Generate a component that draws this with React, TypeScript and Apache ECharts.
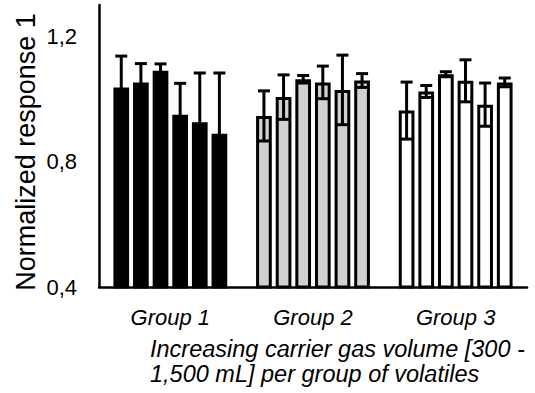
import React, { useEffect, useRef } from "react";
import * as echarts from "echarts";

const categories = ["Group 1", "Group 2", "Group 3"];
const group1Values = [1.037, 1.053, 1.09, 0.95, 0.926, 0.889];
const group1Errors = [0.1, 0.06, 0.022, 0.1, 0.157, 0.194];
const group2Values = [0.946, 1.006, 1.063, 1.053, 1.029, 1.059];
const group2Errors = [0.08, 0.071, 0.012, 0.052, 0.111, 0.022];
const group3Values = [0.963, 1.024, 1.079, 1.058, 0.982, 1.053];
const group3Errors = [0.091, 0.019, 0.008, 0.067, 0.069, 0.014];
const groupFills = ["#000000", "#d0d0d0", "#ffffff"];
const yTicks = [0.4, 0.8, 1.2];
const yAxisTitle = "Normalized response 1";
const xAxisTitle = "Increasing carrier gas volume [300 -\n1,500 mL] per group of volatiles";

const FONT = "'Liberation Sans', Arial, sans-serif";

export default function App() {
  const ref = useRef<HTMLDivElement>(null);
  useEffect(() => {
    if (!ref.current) return;
    const chart = echarts.init(ref.current, undefined, { renderer: "svg" });
    const values = [group1Values, group2Values, group3Values];
    const errors = [group1Errors, group2Errors, group3Errors];
    const barWidth = 15.7;
    const gapRatio = 0.25;
    const pitch = barWidth * (1 + gapRatio);
    const nBars = group1Values.length;

    const barSeries = Array.from({ length: nBars }, (_, j) => ({
      type: "bar",
      barWidth,
      barGap: gapRatio * 100 + "%",
      data: values.map((g, i) => ({
        value: g[j],
        itemStyle: { color: groupFills[i], borderColor: "#000", borderWidth: 3 },
      })),
    }));

    const errData: number[][] = [];
    values.forEach((g, i) => g.forEach((v, j) => errData.push([i, j, v, errors[i][j]])));

    const errSeries = {
      type: "custom",
      encode: { x: 0, y: 2 },
      z: 10,
      renderItem: (_params: any, api: any) => {
        const cat = api.value(0);
        const j = api.value(1);
        const v = api.value(2);
        const e = api.value(3);
        const top = api.coord([cat, v + e]);
        const bot = api.coord([cat, v - e]);
        const x = top[0] + (j - (nBars - 1) / 2) * pitch;
        const hw = 6;
        const style = { stroke: "#000", lineWidth: 3 };
        return {
          type: "group",
          children: [
            { type: "line", shape: { x1: x, y1: top[1], x2: x, y2: bot[1] }, style },
            { type: "line", shape: { x1: x - hw, y1: top[1], x2: x + hw, y2: top[1] }, style },
            { type: "line", shape: { x1: x - hw, y1: bot[1], x2: x + hw, y2: bot[1] }, style },
          ],
        };
      },
      data: errData,
    };

    chart.setOption({
      animation: false,
      backgroundColor: "#fff",
      title: {
        text: xAxisTitle,
        left: 150,
        top: 336,
        padding: 0,
        textStyle: {
          fontFamily: FONT,
          fontSize: 23.5,
          fontStyle: "italic",
          fontWeight: "normal",
          color: "#000",
          lineHeight: 25,
        },
      },
      grid: { left: 99, right: 8, top: 5, bottom: 106 },
      xAxis: {
        type: "category",
        data: categories,
        axisLine: { show: true, lineStyle: { color: "#000", width: 2.5 } },
        axisTick: { show: false },
        axisLabel: {
          fontFamily: FONT,
          fontSize: 22,
          fontStyle: "italic",
          color: "#000",
          margin: 19,
        },
      },
      yAxis: {
        type: "value",
        min: 0.4,
        max: 1.3,
        interval: 0.4,
        splitLine: { show: false },
        axisTick: { show: false },
        axisLine: { show: true, lineStyle: { color: "#000", width: 2.5 } },
        axisLabel: {
          fontFamily: FONT,
          fontSize: 22,
          color: "#000",
          margin: 22,
          formatter: (v: number) =>
            yTicks.some((t) => Math.abs(t - v) < 1e-6) ? v.toFixed(1).replace(".", ",") : "",
        },
        name: yAxisTitle,
        nameLocation: "middle",
        nameRotate: 90,
        nameGap: 60,
        nameMoveOverlap: false,
        nameTextStyle: { fontFamily: FONT, fontSize: 27, color: "#000", padding: [0, 12, 0, 0] },
      },
      series: [...barSeries, errSeries],
    });
    return () => chart.dispose();
  }, []);
  return (
    <div
      ref={ref}
      style={{ position: "fixed", left: 0, top: 0, width: 535, height: 393, background: "#fff" }}
    />
  );
}
